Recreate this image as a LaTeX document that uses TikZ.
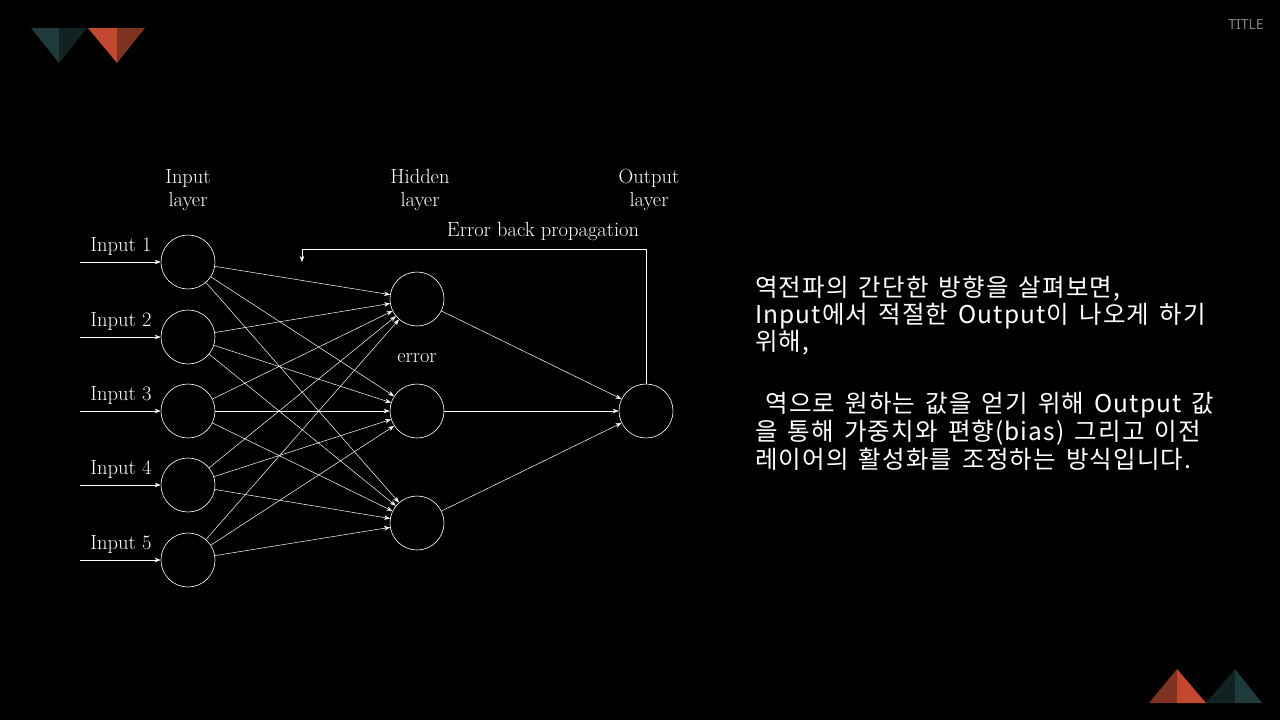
\documentclass[tikz,border=0pt]{standalone}
\usepackage{fontspec}
\newfontfamily\kofont[LetterSpace=4.5,WordSpace=1.55]{Noto Sans CJK KR}
\newfontfamily\titlefont{Noto Sans}
\usetikzlibrary{arrows.meta}

\definecolor{tealLight}{HTML}{1E3A3A}
\definecolor{tealDark}{HTML}{112222}
\definecolor{redLight}{HTML}{C2492F}
\definecolor{redDark}{HTML}{7D3222}

\tikzset{
  neuron/.style={draw=white, circle, minimum size=54pt, inner sep=0pt, line width=0.6pt},
  wire/.style={draw=white, line width=0.5pt, -{Stealth[length=6pt,width=4.5pt]}},
  lbl/.style={text=white, font=\fontsize{20.5}{23}\selectfont, align=center},
  kotext/.style={text=white, anchor=base west, inner sep=0pt, font=\kofont\fontsize{24.5}{27}\selectfont},
}

\begin{document}
\begin{tikzpicture}[x=1pt,y=-1pt]
\useasboundingbox[fill=black] (0,0) rectangle (1280,720);

%Corner Triangles
\fill [tealLight] (31,28) -- (59,28) -- (59,63) -- cycle;
\fill [tealDark] (59,28) -- (87,28) -- (59,63) -- cycle;
\fill [redLight] (88,28) -- (117,28) -- (117,63) -- cycle;
\fill [redDark] (117,28) -- (145,28) -- (117,63) -- cycle;
\fill [redDark] (1149,703) -- (1177,703) -- (1177,669) -- cycle;
\fill [redLight] (1177,703) -- (1206,703) -- (1177,669) -- cycle;
\fill [tealDark] (1206,703) -- (1235,703) -- (1235,669) -- cycle;
\fill [tealLight] (1235,703) -- (1262,703) -- (1235,669) -- cycle;
\node (title) [text=gray, font=\titlefont\fontsize{14}{16}\selectfont] at (1246,25) {TITLE};

%Layers
\foreach \i/\y in {1/262,2/337,3/411,4/485,5/560}
  \node (in\i) [neuron] at (188,\y) {};
\foreach \j/\y in {1/299,2/411,3/523}
  \node (hid\j) [neuron] at (417,\y) {};
\node (out) [neuron] at (646,411) {};

%Layer Labels
\node (inlayer) [lbl] at (188,190) {Input\\layer};
\node (hidlayer) [lbl] at (420,190) {Hidden\\layer};
\node (outlayer) [lbl] at (649,190) {Output\\layer};

%Inputs
\foreach \i/\y in {1/262,2/337,3/411,4/485,5/560} {
  \coordinate (src\i) at (80,\y);
  \draw [wire] (src\i) -- (in\i);
  \node (inlbl\i) [lbl] at (121,\y-16) {Input \i};
}

%Connections
\foreach \i in {1,...,5}
  \foreach \j in {1,2,3}
    \draw [wire] (in\i) -- (hid\j);
\foreach \j in {1,2,3}
  \draw [wire] (hid\j) -- (out);

%Back Propagation
\coordinate (backtop) at (646,249);
\coordinate (backleft) at (302,249);
\coordinate (backend) at (302,262);
\draw [wire] (out.north) -- (backtop) -- (backleft) -- (backend);
\node (backlbl) [lbl] at (543,231) {Error back propagation};
\node (err) [lbl] at (417,358) {error};

%Description
\foreach \k/\y/\ktext in {1/296/{역전파의 간단한 방향을 살펴보면,},
    2/323/{Input에서 적절한 Output이 나오게 하기},
    3/350/{위해,},
    4/412/{\ 역으로 원하는 값을 얻기 위해 Output 값},
    5/440/{을 통해 가중치와 편향(bias) 그리고 이전},
    6/468/{레이어의 활성화를 조정하는 방식입니다.}}
  \node (desc\k) [kotext] at (755,\y) {\ktext};
\end{tikzpicture}
\end{document}
